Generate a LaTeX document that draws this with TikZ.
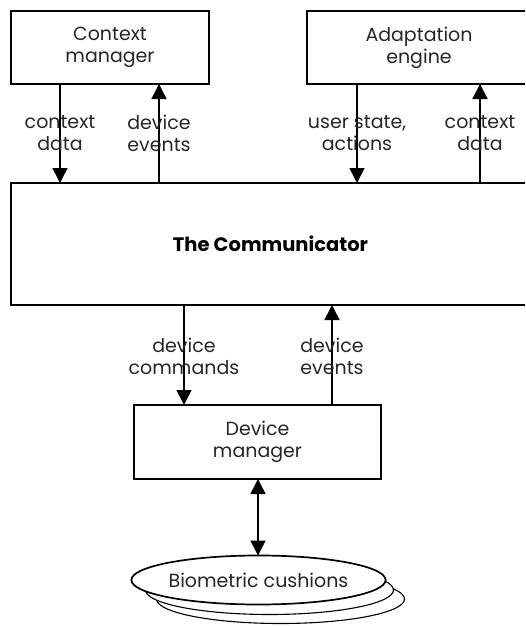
\documentclass[tikz,border=0pt]{standalone}
\usepackage{fontspec}
\setmainfont{Poppins}
\usetikzlibrary{arrows.meta,shapes.geometric}
\begin{document}
\begin{tikzpicture}[x=1pt,y=-1pt,
  txt/.style={font=\fontsize{19}{22}\selectfont, align=center, text=black!85},
  box/.style={draw, line width=1.7pt, inner sep=0pt, outer sep=0pt, fill=white, txt},
  lbl/.style={txt, inner sep=0pt},
  arr/.style={line width=1.6pt, -{Triangle[length=15pt,width=15pt]}},
  darr/.style={line width=1.6pt, {Triangle[length=15pt,width=15pt]}-{Triangle[length=15pt,width=15pt]}},
  disc/.style={draw, ellipse, inner sep=0pt, outer sep=0pt, fill=white, minimum width=248pt, minimum height=49pt}]
\useasboundingbox (0,0) rectangle (525,626);
\clip (0,0) rectangle (525,626);

% components
\node[box, minimum width=198pt, minimum height=73pt] (ctx) at (110,47.5) {Context\\manager};
\node[box, minimum width=224pt, minimum height=73pt] (ada) at (419,47.5) {Adaptation\\engine};
\node[box, minimum width=519pt, minimum height=122pt, font=\fontsize{19.5}{22}\selectfont\bfseries, text=black] (com) at (270.5,244) {The Communicator};
\node[box, minimum width=247pt, minimum height=74pt] (dev) at (257.5,442) {Device\\manager};

% stacked cushions, back to front
\node[disc, line width=1.1pt] (cush3) at (280.5,599) {};
\node[disc, line width=1.1pt] (cush2) at (269.5,590) {};
\node[disc, line width=1.7pt, txt] (cush) at (258.5,580) {Biometric cushions};

% x positions of the connectors
\coordinate (xa) at (60,0);
\coordinate (xb) at (159,0);
\coordinate (xc) at (357,0);
\coordinate (xd) at (480,0);
\coordinate (xe) at (184,0);
\coordinate (xf) at (332,0);
\coordinate (xg) at (258,0);

% connectors
\draw[arr] (ctx.south -| xa) -- (com.north -| xa);
\draw[arr] (com.north -| xb) -- (ctx.south -| xb);
\draw[arr] (ada.south -| xc) -- (com.north -| xc);
\draw[arr] (com.north -| xd) -- (ada.south -| xd);
\draw[arr] (com.south -| xe) -- (dev.north -| xe);
\draw[arr] (dev.north -| xf) -- (com.south -| xf);
\draw[darr] (dev.south -| xg) -- (cush.north -| xg);

% connector labels
\node[lbl] (l1) at (60,133) {context\\data};
\node[lbl] (l2) at (159,133) {device\\events};
\node[lbl] (l3) at (357,133) {user state,\\actions};
\node[lbl] (l4) at (480,133) {context\\data};
\node[lbl] (l5) at (184,356) {device\\commands};
\node[lbl] (l6) at (332,356) {device\\events};
\end{tikzpicture}
\end{document}
